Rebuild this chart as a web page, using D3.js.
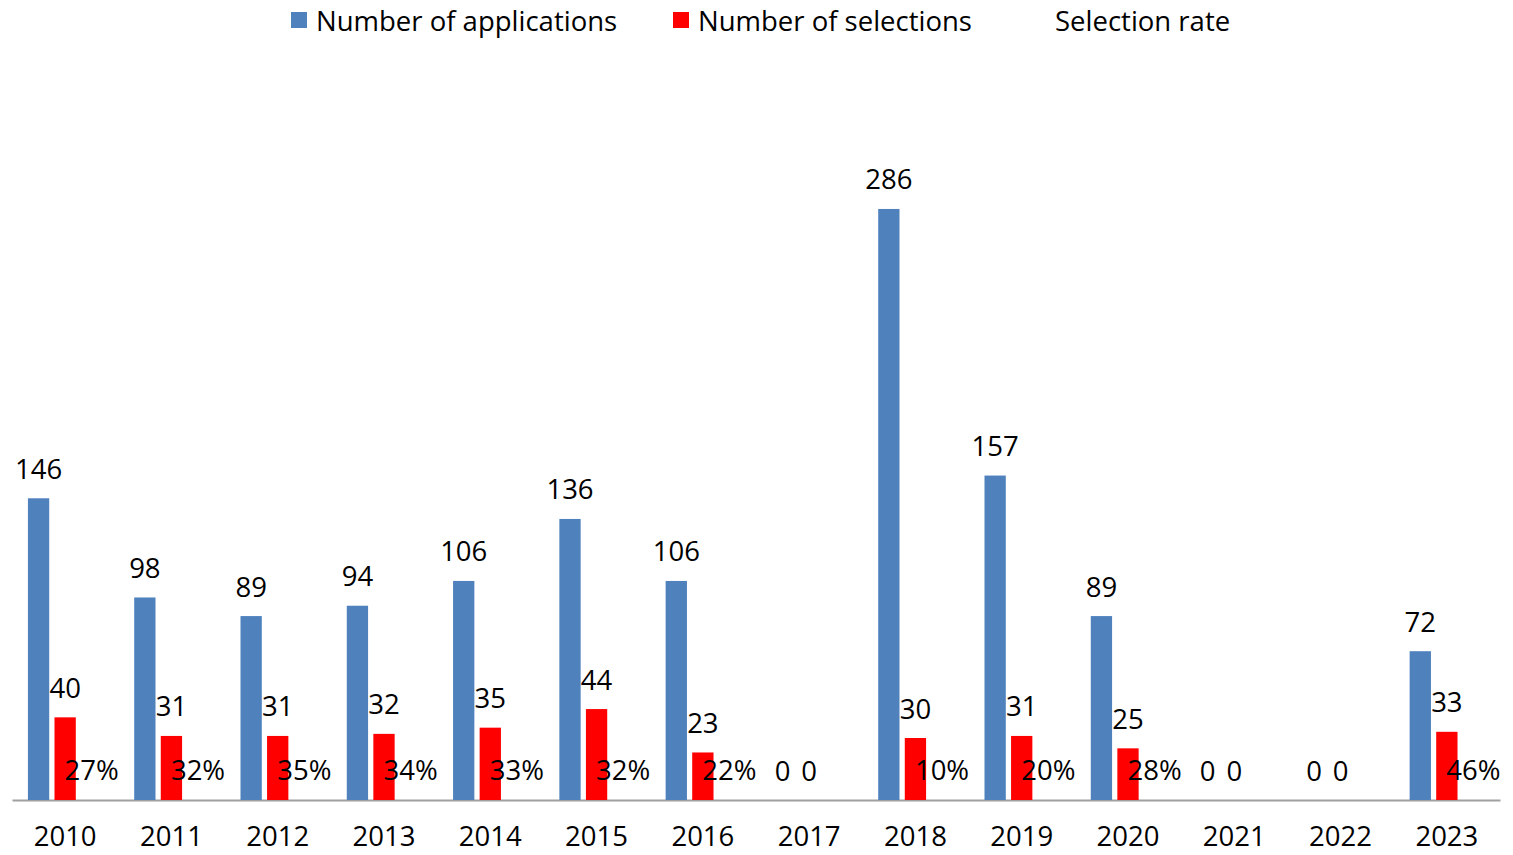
<!DOCTYPE html>
<html><head><meta charset="utf-8">
<script src="https://cdn.jsdelivr.net/npm/d3@7"></script>
<style>body{margin:0;background:#fff}svg{display:block}text{font-family:"Open Sans",sans-serif;fill:#000}</style>
</head><body>
<svg id="c" width="1513" height="855"></svg>
<script>
const years = ["2010","2011","2012","2013","2014","2015","2016","2017","2018","2019","2020","2021","2022","2023"];
const applications = [146,98,89,94,106,136,106,0,286,157,89,0,0,72];
const selections = [40,31,31,32,35,44,23,0,30,31,25,0,0,33];
const selectionRate = [27,32,35,34,33,32,22,null,10,20,28,null,null,46];
const seriesNames = ["Number of applications","Number of selections","Selection rate"];
const colors = ["#4F81BD","#FF0000","none"];

const svg = d3.select("#c");
const x = d3.scaleBand().domain(years).range([12,1500]);
const y = d3.scaleLinear().domain([0,350]).range([800,76.7]);
const slot = x.bandwidth()/4, bw = 21.3;
const fs = 27.5;

const g = svg.append("g");
// axis
const ax = g.append("g").attr("transform","translate(0,800)").call(d3.axisBottom(x).tickSize(0).tickPadding(26));
ax.select(".domain").attr("stroke","#A0A0A0").attr("stroke-width",2);
ax.selectAll("text").style("font-family",'"Open Sans",sans-serif').attr("font-size",fs).attr("fill","#000");

const cx = (d,k)=> x(d)+x.bandwidth()/2 + (k-1)*slot;

// bars
[applications,selections].forEach((arr,k)=>{
  g.selectAll(".b"+k).data(years).enter().append("rect")
    .attr("x",d=>cx(d,k)-bw/2).attr("width",bw)
    .attr("y",(d,i)=>y(arr[i])).attr("height",(d,i)=>y(0)-y(arr[i]))
    .attr("fill",colors[k]);
  g.selectAll(".l"+k).data(years).enter().append("text")
    .attr("x",d=>cx(d,k)).attr("y",(d,i)=>y(arr[i])-30)
    .attr("text-anchor","middle").attr("dominant-baseline","central")
    .attr("font-size",fs).text((d,i)=>arr[i]);
});
// rate labels
g.selectAll(".l2").data(years.filter((d,i)=>selectionRate[i]!==null)).enter().append("text")
  .attr("x",d=>cx(d,2)).attr("y",d=>y(selectionRate[years.indexOf(d)]/100)-30)
  .attr("text-anchor","middle").attr("dominant-baseline","central")
  .attr("font-size",fs).text(d=>selectionRate[years.indexOf(d)]+"%");

// legend
const legX = [291,673,1030];
seriesNames.forEach((n,k)=>{
  if(colors[k]!=="none") svg.append("rect").attr("x",legX[k]).attr("y",12).attr("width",16).attr("height",16).attr("fill",colors[k]);
  svg.append("text").attr("x",legX[k]+25).attr("y",20).attr("dominant-baseline","central").attr("font-size",fs).text(n);
});
</script>
</body></html>
